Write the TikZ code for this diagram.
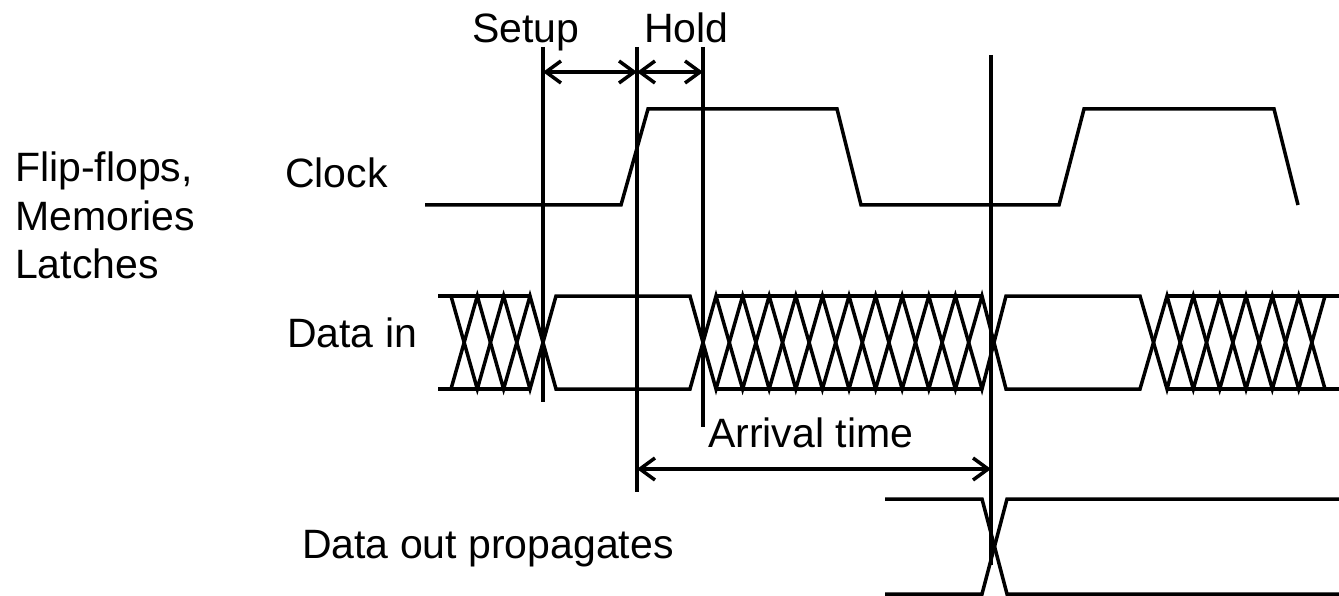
\documentclass[tikz,border=0pt]{standalone}
\usepackage{fontspec}
\setmainfont{Liberation Sans}
\usetikzlibrary{arrows.meta}
\begin{document}
\begin{tikzpicture}[x=1pt,y=-1pt,
  sig/.style={line width=3.5pt,line join=miter},
  vline/.style={line width=3.3pt},
  dimarrow/.style={line width=3.5pt,{Straight Barb[length=15pt,width=22pt]}-{Straight Barb[length=15pt,width=22pt]}},
  lbl/.style={anchor=base west,inner sep=0pt,font=\fontsize{41}{49}\selectfont}]
\useasboundingbox (0,0) rectangle (1339,596);
\def\T{296}\def\B{389}
% labels
\node[lbl] (setup) at (472,43) {Setup};
\node[lbl] (hold) at (644,43) {Hold};
\node[lbl] (ff) at (15,182) {Flip-flops,};
\node[lbl] (mem) at (15,231) {Memories};
\node[lbl] (lat) at (15,279) {Latches};
\node[lbl] (clk) at (285,188) {Clock};
\node[lbl] (din) at (287,347) {Data in};
\node[lbl] (arr) at (708,447) {Arrival time};
\node[lbl] (dout) at (302,558) {Data out propagates};
% vertical reference lines
\coordinate (vAt) at (543,47);  \coordinate (vAb) at (543,402);
\coordinate (vBt) at (637,47);  \coordinate (vBb) at (637,492);
\coordinate (vCt) at (703,47);  \coordinate (vCb) at (703,427);
\coordinate (vDt) at (991,55);  \coordinate (vDb) at (991,565);
\draw[vline] (vAt) -- (vAb);
\draw[vline] (vBt) -- (vBb);
\draw[vline] (vCt) -- (vCb);
\draw[vline] (vDt) -- (vDb);
% dimension arrows
\coordinate (sA) at (543,72); \coordinate (sB) at (637,72); \coordinate (sC) at (703,72);
\coordinate (aB) at (637,469); \coordinate (aD) at (991,469);
\draw[dimarrow] (sA) -- (sB);
\draw[dimarrow] (sB) -- (sC);
\draw[dimarrow] (aB) -- (aD);
% clock
\draw[sig] (425,205) -- (621,205) -- (648,109) -- (837,109) -- (861,205) -- (1059,205)
  -- (1084,109) -- (1274,109) -- (1298,205);
% data in: hatched top/bottom lines
\draw[sig] (438,\T) -- (530,\T); \draw[sig] (438,\B) -- (530,\B);
\draw[sig] (716,\T) -- (982,\T); \draw[sig] (716,\B) -- (982,\B);
\draw[sig] (1167,\T) -- (1339,\T); \draw[sig] (1167,\B) -- (1339,\B);
% data in: two crossing traces
\draw[sig] (451,\T) -- (477.3,\B) -- (503.6,\T) -- (530,\B) -- (556,\T) -- (690,\T) -- (716,\B)
  -- (742.6,\T) -- (769.2,\B) -- (795.8,\T) -- (822.4,\B) -- (849,\T) -- (875.6,\B)
  -- (902.2,\T) -- (928.8,\B) -- (955.4,\T) -- (982,\B) -- (1006,\T) -- (1140,\T)
  -- (1167,\B) -- (1193.3,\T) -- (1219.7,\B) -- (1246,\T) -- (1272.3,\B) -- (1298.7,\T) -- (1325,\B);
\draw[sig] (451,\B) -- (477.3,\T) -- (503.6,\B) -- (530,\T) -- (556,\B) -- (690,\B) -- (716,\T)
  -- (742.6,\B) -- (769.2,\T) -- (795.8,\B) -- (822.4,\T) -- (849,\B) -- (875.6,\T)
  -- (902.2,\B) -- (928.8,\T) -- (955.4,\B) -- (982,\T) -- (1006,\B) -- (1140,\B)
  -- (1167,\T) -- (1193.3,\B) -- (1219.7,\T) -- (1246,\B) -- (1272.3,\T) -- (1298.7,\B) -- (1325,\T);
% data out
\draw[sig] (885,499) -- (982,499) -- (1007,594) -- (1339,594);
\draw[sig] (885,594) -- (982,594) -- (1007,499) -- (1339,499);
\end{tikzpicture}
\end{document}
